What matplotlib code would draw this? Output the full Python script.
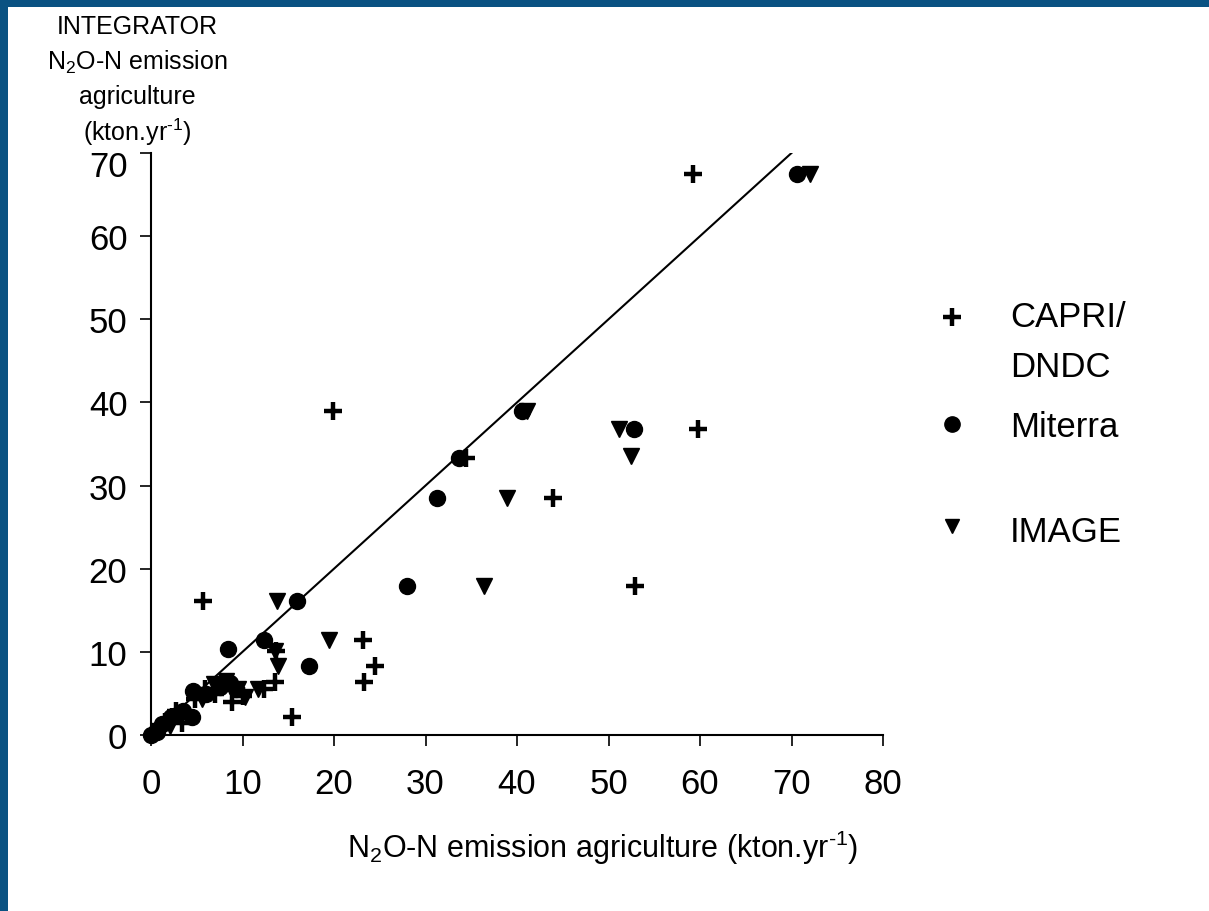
"""
INTEGRATOR vs model N2O-N emissions from agriculture (scatter + 1:1 line)
"""
import matplotlib
matplotlib.use('Agg')
import matplotlib.pyplot as plt
from matplotlib.patches import Rectangle
from matplotlib.transforms import ScaledTranslation

plt.rcParams['font.family'] = ['Liberation Sans', 'DejaVu Sans']
plt.rcParams['mathtext.default'] = 'regular'

# ---- data (x: model emission, y: INTEGRATOR emission, kton N/yr) ----
capri_x = [59.2, 19.9, 34.4, 43.9, 59.8, 52.9, 5.7, 23.2, 24.5, 23.3, 15.4,
           13.7, 13.5, 12.3, 8.9, 10.1, 2.3, 1.5, 2.7, 4.8, 5.9, 0.8, 7.0, 3.4]
capri_y = [67.5, 39.0, 33.3, 28.5, 36.8, 17.9, 16.1, 11.4, 8.3, 6.4, 2.2,
           10.1, 6.4, 5.5, 4.0, 4.7, 2.2, 1.6, 2.9, 4.3, 5.5, 0.7, 4.9, 1.4]

miterra_x = [70.6, 40.5, 33.7, 31.3, 52.8, 28.0, 16.0, 17.3, 12.3, 8.4, 4.6,
             4.5, 7.5, 8.6, 6.0, 2.2, 0.7, 0.0, 1.2, 3.5, 9.3]
miterra_y = [67.5, 39.0, 33.3, 28.5, 36.8, 17.9, 16.1, 8.3, 11.4, 10.3, 5.3,
             2.2, 5.8, 6.3, 4.9, 2.2, 0.4, 0.0, 1.3, 2.9, 5.5]

image_x = [72.0, 41.1, 38.9, 51.2, 52.5, 36.4, 13.8, 19.5, 13.6, 13.9, 11.7,
           6.9, 8.2, 9.5, 5.6, 3.3, 2.1, 0.8, 10.3]
image_y = [67.5, 39.0, 28.5, 36.8, 33.5, 17.9, 16.1, 11.4, 10.1, 8.3, 5.5,
           6.1, 6.5, 5.5, 4.3, 2.3, 1.1, 0.5, 4.6]

line_x = [0, 70]
line_y = [0, 70]

x_ticks = [0, 10, 20, 30, 40, 50, 60, 70, 80]
y_ticks = [0, 10, 20, 30, 40, 50, 60, 70]

UNIT = '(kton.yr$^{\u20101}$)'

W, H = 1209, 912
fig = plt.figure(figsize=(W / 100, H / 100), dpi=100)
fig.patch.set_facecolor('white')
border = '#0a5282'
# blue frame on left and top edges
fig.add_artist(Rectangle((0, 0), 8 / W, 1, transform=fig.transFigure,
                         facecolor=border, edgecolor='none'))
fig.add_artist(Rectangle((0, 1 - 8 / H), 1, 8 / H, transform=fig.transFigure,
                         facecolor=border, edgecolor='none'))

ax = fig.add_axes([151 / W, 1 - 736 / H, (883 - 151) / W, (736 - 154) / H])

ax.plot(line_x, line_y, color='black', lw=1.5, zorder=2)
ax.plot(capri_x, capri_y, ls='none', marker='+', ms=13, mew=3.2,
        color='black', clip_on=False, zorder=3)
ax.plot(miterra_x, miterra_y, ls='none', marker='o', ms=11.5,
        color='black', clip_on=False, zorder=3)
ax.plot(image_x, image_y, ls='none', marker='v', ms=12,
        color='black', clip_on=False, zorder=3)

ax.set_xlim(0, 80)
ax.set_ylim(0, 70)
ax.set_xticks(x_ticks)
ax.set_yticks(y_ticks)
ax.spines['top'].set_visible(False)
ax.spines['right'].set_visible(False)
for s in ['left', 'bottom']:
    ax.spines[s].set_linewidth(1.5)
ax.tick_params(axis='both', direction='out', length=8, width=1.2,
               labelsize=25, colors='black')
ax.tick_params(axis='x', pad=15)
ax.tick_params(axis='y', pad=9)

# top "70" label sits a little below its tick, as in the original
top_lbl = ax.get_yticklabels()[-1]
top_lbl.set_transform(top_lbl.get_transform() +
                      ScaledTranslation(0, -0.10, fig.dpi_scale_trans))

# x axis title
fig.text(603 / W, 1 - 848 / H, 'N$_2$O-N emission agriculture ' + UNIT,
         ha='center', va='center', fontsize=22)

# y axis title (stacked at top left)
y_lines = ['INTEGRATOR', 'N$_2$O-N emission', 'agriculture', UNIT]
for i, txt in enumerate(y_lines):
    fig.text(137 / W, 1 - (27 + 35 * i) / H, txt, ha='center', va='center',
             fontsize=18)

# legend drawn by hand
leg_items = [('+', 13, 3.2, 318), ('o', 11, 1, 425), ('v', 10, 1, 527)]
for mk, ms, mew, py in leg_items:
    fig.add_artist(plt.Line2D([952 / W], [1 - py / H], marker=mk, ms=ms,
                              mew=mew, color='black', ls='none',
                              transform=fig.transFigure))
leg_text = [('CAPRI/', 318), ('DNDC', 368), ('Miterra', 428), ('IMAGE', 533)]
for txt, py in leg_text:
    fig.text(1010 / W, 1 - py / H, txt, ha='left', va='center', fontsize=25)

fig.savefig('out.png', dpi=100)
